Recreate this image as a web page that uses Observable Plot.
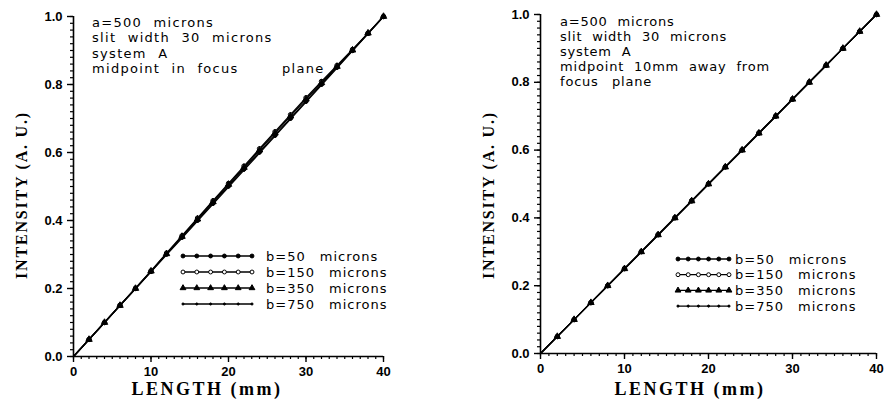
<!DOCTYPE html>
<html>
<head>
<meta charset="utf-8">
<script src="https://cdn.jsdelivr.net/npm/d3@7"></script>
<script src="https://cdn.jsdelivr.net/npm/@observablehq/plot@0.6"></script>
<style>
  html, body { margin: 0; padding: 0; background: #fff; }
  #wrap { display: flex; width: 885px; height: 401px; }
  svg { overflow: visible; }
</style>
</head>
<body>
<div id="wrap"></div>
<script>
// ---- data ----
const lengths = [0, 2, 4, 6, 8, 10, 12, 14, 16, 18, 20, 22, 24, 26, 28, 30, 32, 34, 36, 38, 40];
const seriesNames = ["b=50 microns", "b=150 microns", "b=350 microns", "b=750 microns"];

// left panel: midpoint in focus plane
const leftB50  = [0, 0.050, 0.100, 0.150, 0.200, 0.250, 0.301, 0.351, 0.401, 0.451, 0.502, 0.552, 0.602, 0.651, 0.701, 0.751, 0.801, 0.851, 0.900, 0.950, 1.000];
const leftB150 = [0, 0.050, 0.100, 0.151, 0.201, 0.252, 0.304, 0.355, 0.407, 0.458, 0.509, 0.560, 0.611, 0.661, 0.711, 0.761, 0.809, 0.856, 0.903, 0.951, 1.000];
const leftB350 = [0, 0.050, 0.100, 0.150, 0.200, 0.251, 0.302, 0.353, 0.404, 0.455, 0.506, 0.556, 0.607, 0.657, 0.707, 0.757, 0.805, 0.853, 0.901, 0.951, 1.000];
const leftB750 = [0, 0.050, 0.100, 0.150, 0.199, 0.249, 0.299, 0.348, 0.398, 0.448, 0.498, 0.548, 0.598, 0.648, 0.698, 0.748, 0.798, 0.848, 0.899, 0.949, 1.000];

// right panel: midpoint 10mm away from focus plane
const rightB50  = [0, 0.050, 0.100, 0.150, 0.200, 0.250, 0.300, 0.350, 0.400, 0.450, 0.500, 0.550, 0.600, 0.650, 0.700, 0.750, 0.800, 0.850, 0.900, 0.950, 1.000];
const rightB150 = [0, 0.050, 0.100, 0.150, 0.200, 0.251, 0.301, 0.351, 0.401, 0.451, 0.501, 0.551, 0.601, 0.651, 0.701, 0.751, 0.801, 0.851, 0.900, 0.950, 1.000];
const rightB350 = [0, 0.050, 0.100, 0.150, 0.200, 0.250, 0.300, 0.350, 0.400, 0.450, 0.500, 0.550, 0.600, 0.650, 0.700, 0.750, 0.800, 0.850, 0.900, 0.950, 1.000];
const rightB750 = [0, 0.050, 0.100, 0.150, 0.200, 0.249, 0.299, 0.349, 0.399, 0.449, 0.499, 0.549, 0.599, 0.649, 0.699, 0.749, 0.799, 0.849, 0.900, 0.950, 1.000];

const xMajorTicks = [0, 10, 20, 30, 40];
const yMajorTicks = [0, 0.2, 0.4, 0.6, 0.8, 1.0];
const xMinorTicks = d3.range(0, 41, 1);
const yMinorTicks = d3.range(0, 51, 1).map(i => i / 50);

const leftNotes = ["a=500 microns", "slit width 30 microns", "system A", "midpoint in focus"];
const leftNoteExtra = "plane";
const rightNotes = ["a=500 microns", "slit width 30 microns", "system A", "midpoint 10mm away from", "focus"];
const rightNoteExtra = "plane";

// marker styles per series
const markerStyles = [
  {symbol: "circle", fill: "black", r: 2.2},
  {symbol: "circle", fill: "white", r: 2.2},
  {symbol: "triangle", fill: "black", r: 2.4},
  {symbol: "circle", fill: "black", r: 1.2}
];

function toRows(values) {
  return lengths.map((x, i) => ({x, y: values[i]}));
}

function makePanel(cfg) {
  const {width, marginLeft, marginRight, marginTop, marginBottom, series, notes, extra, extraDx, notesDx, notesDy, lineH, legend} = cfg;
  const height = 401;
  const marks = [
    Plot.axisX({ticks: xMinorTicks, tickSize: 3, text: null, strokeWidth: 1.2, label: null}),
    Plot.axisY({ticks: yMinorTicks, tickSize: 3, text: null, strokeWidth: 1.2, label: null}),
    Plot.axisX({ticks: xMajorTicks, tickSize: 6, tickPadding: 4, tickFormat: d => String(d), strokeWidth: 1.4,
      fontSize: 13, fontWeight: "bold", fontFamily: "Liberation Sans, Arial, sans-serif", label: null}),
    Plot.axisY({ticks: yMajorTicks, tickSize: 6, tickPadding: 5, tickFormat: d3.format(".1f"), strokeWidth: 1.4,
      fontSize: 13, fontWeight: "bold", fontFamily: "Liberation Sans, Arial, sans-serif", label: null}),
    Plot.ruleX([0], {strokeWidth: 1.6}),
    Plot.ruleY([0], {strokeWidth: 1.6}),
  ];
  series.forEach((vals, i) => {
    const rows = toRows(vals);
    marks.push(Plot.line(rows, {x: "x", y: "y", stroke: "black", strokeWidth: 1.3}));
    const ms = markerStyles[i];
    marks.push(Plot.dot(rows.slice(1), {x: "x", y: "y", symbol: ms.symbol, r: ms.r, fill: ms.fill, stroke: "black", strokeWidth: 1}));
  });
  const svg = Plot.plot({
    width, height, marginLeft, marginRight, marginTop, marginBottom,
    x: {domain: [0, 40], label: null},
    y: {domain: [0, 1], label: null},
    style: {background: "white", color: "black", overflow: "visible"},
    marks
  });
  const sel = d3.select(svg);
  // notes
  const g = sel.append("g").attr("font-family", "DejaVu Sans, sans-serif").attr("font-size", 13)
    .attr("fill", "black").attr("text-anchor", "start")
    .attr("letter-spacing", cfg.noteLS).attr("word-spacing", cfg.noteWS);
  notes.forEach((t, i) => {
    g.append("text").attr("x", marginLeft + notesDx).attr("y", marginTop + notesDy + i * lineH).text(t);
  });
  g.append("text").attr("x", marginLeft + extraDx).attr("y", marginTop + notesDy + (notes.length - 1) * lineH).text(extra);

  // legend
  const lg = sel.append("g").attr("font-family", "DejaVu Sans, sans-serif").attr("font-size", 13)
    .attr("text-anchor", "start").attr("letter-spacing", 1).attr("word-spacing", 9);
  seriesNames.forEach((name, i) => {
    const y = legend.y + i * legend.dy;
    lg.append("line").attr("x1", legend.x0).attr("x2", legend.x1).attr("y1", y).attr("y2", y)
      .attr("stroke", "black").attr("stroke-width", 1.3);
    const ms = markerStyles[i];
    const sym = d3.symbol(ms.symbol === "triangle" ? d3.symbolTriangle : d3.symbolCircle, Math.PI * ms.r * ms.r * 0.8);
    for (let k = 0; k < 6; k++) {
      const x = legend.x0 + k * (legend.x1 - legend.x0) / 5;
      lg.append("path").attr("d", sym()).attr("transform", `translate(${x},${y})`)
        .attr("fill", ms.fill).attr("stroke", "black").attr("stroke-width", 1);
    }
    lg.append("text").attr("x", legend.tx).attr("y", y + 4.5).attr("fill", "black").text(name);
  });

  // axis titles
  const plotW = width - marginLeft - marginRight;
  sel.append("text").attr("x", marginLeft + plotW / 2 + cfg.xlabDx).attr("y", height - 6)
    .attr("text-anchor", "middle").attr("font-family", "Liberation Serif, Times New Roman, serif")
    .attr("font-size", 18).attr("letter-spacing", 2.5).attr("font-weight", "bold").attr("fill", "black")
    .text("LENGTH (mm)");
  sel.append("text").attr("transform", `translate(${cfg.ylabX},${cfg.ylabY}) rotate(-90)`)
    .attr("text-anchor", "middle").attr("font-family", "Liberation Serif, Times New Roman, serif")
    .attr("font-size", 16).attr("letter-spacing", 1.8).attr("font-weight", "bold").attr("fill", "black")
    .text("INTENSITY (A. U.)");
  return svg;
}

const wrap = document.getElementById("wrap");
wrap.appendChild(makePanel({
  width: 442, marginLeft: 73, marginRight: 59, marginTop: 16, marginBottom: 45,
  series: [leftB50, leftB150, leftB350, leftB750],
  notes: leftNotes, extra: leftNoteExtra, extraDx: 209, notesDx: 19, notesDy: 11, lineH: 15.3,
  noteLS: 1.3, noteWS: 6,
  legend: {x0: 183, x1: 252, tx: 266, y: 256, dy: 16},
  xlabDx: -21, ylabX: 27, ylabY: 195
}));
wrap.appendChild(makePanel({
  width: 443, marginLeft: 98, marginRight: 9, marginTop: 14, marginBottom: 48,
  series: [rightB50, rightB150, rightB350, rightB750],
  notes: rightNotes, extra: rightNoteExtra, extraDx: 72, notesDx: 20, notesDy: 12, lineH: 15,
  noteLS: 0.8, noteWS: 5,
  legend: {x0: 236, x1: 287, tx: 293, y: 259, dy: 15.7},
  xlabDx: -18, ylabX: 52, ylabY: 195
}));
</script>
</body>
</html>
